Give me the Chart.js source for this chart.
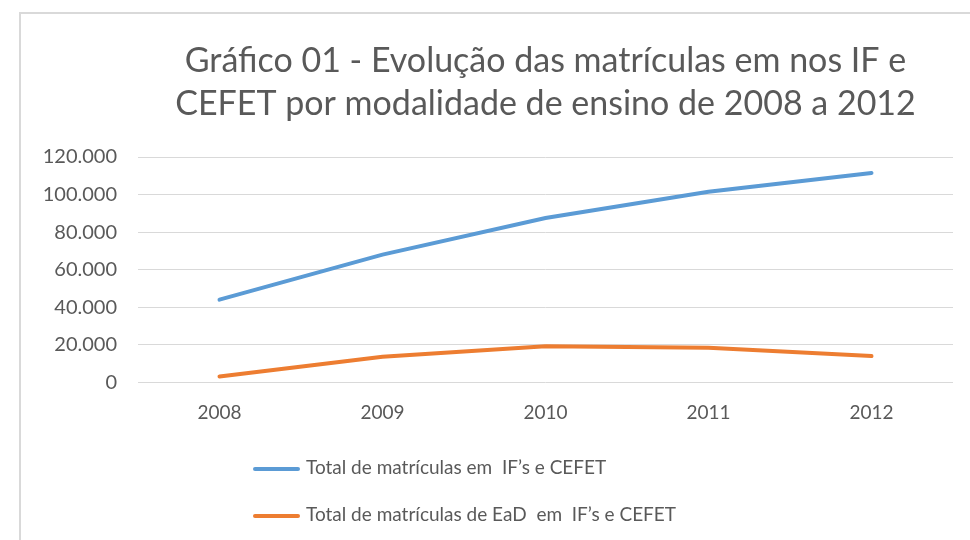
<!DOCTYPE html>
<html>
<head>
<meta charset="utf-8">
<script src="https://cdn.jsdelivr.net/npm/chart.js@4.4.0/dist/chart.umd.min.js"></script>
<style>
body { margin: 0; background: #fff; overflow: hidden; }
#wrap { position: relative; width: 970px; height: 540px; overflow: hidden; }
#frame { position: absolute; left: 19px; top: 12px; width: 1000px; height: 600px; border: 2px solid #d9d9d9; }
#linechart { position: absolute; left: 0; top: 0; }
#legend { position: absolute; left: 253px; top: 0; font-family: Lato, sans-serif; font-size: 19px; color: #595959; }
.item { position: absolute; left: 0; white-space: pre; height: 24px; line-height: 24px; }
.swatch { display: inline-block; width: 47px; height: 4px; border-radius: 2px; vertical-align: middle; margin-right: 6px; }
</style>
</head>
<body>
<div id="wrap">
  <div id="frame"></div>
  <canvas id="linechart" width="970" height="540"></canvas>
  <div id="legend"></div>
</div>
<script>
var years = ['2008', '2009', '2010', '2011', '2012'];
var totalMatriculas = [44000, 68000, 87500, 101500, 111500];
var totalEaD = [3000, 13500, 19200, 18400, 13900];
var seriesNames = ['Total de matrículas em  IF’s e CEFET', 'Total de matrículas de EaD  em  IF’s e CEFET'];
var seriesColors = ['#5b9bd5', '#ed7d31'];
var titleLines = ['Gráfico 01 - Evolução das matrículas em nos IF e', 'CEFET por modalidade de ensino de 2008 a 2012'];
var yTicks = [0, 20000, 40000, 60000, 80000, 100000, 120000];

function formatNumber(v)
{
    var s = String(Math.round(v));
    return s.replace(/\B(?=(\d{3})+(?!\d))/g, '.');
}

function buildLegend(chart)
{
    var rowTops = [455, 502];
    var sets = chart.data.datasets;
    for (var i in sets) {
        var ds = sets[i];
        var el = document.createElement('div');
        el.className = 'item';
        el.style.top = rowTops[i] + 'px';
        el.innerHTML = '<span class="swatch" style="background:' + ds.borderColor + '"></span>';
        el.appendChild(document.createTextNode(ds.label));
        document.getElementById('legend').appendChild(el);
    }
}

function renderLineChart()
{
    var ctx = document.getElementById('linechart').getContext('2d');
    var data = {
        labels: years,
        datasets: [
            { label: seriesNames[0], data: totalMatriculas, borderColor: seriesColors[0], backgroundColor: seriesColors[0] },
            { label: seriesNames[1], data: totalEaD, borderColor: seriesColors[1], backgroundColor: seriesColors[1] }
        ]
    };
    var chart = new Chart(ctx, {
        type: 'line',
        data: data,
        options: {
            responsive: false,
            animation: false,
            layout: { padding: { left: 0, right: 17, top: 0, bottom: 97 } },
            elements: {
                line: { borderWidth: 4, tension: 0, borderCapStyle: 'round' },
                point: { radius: 0, hoverRadius: 0 }
            },
            plugins: {
                legend: { display: false },
                tooltip: { enabled: false },
                title: {
                    display: true,
                    fullSize: false,
                    text: titleLines,
                    color: '#595959',
                    font: { family: 'Lato', size: 34, weight: 'normal', lineHeight: 1.25 },
                    padding: { top: 40, bottom: 32 }
                }
            },
            scales: {
                x: {
                    offset: true,
                    grid: { display: false, drawTicks: false },
                    border: { display: false },
                    ticks: { color: '#595959', font: { family: 'Lato', size: 19 }, padding: 19 }
                },
                y: {
                    min: 0,
                    max: 120000,
                    afterFit: function(scale) { scale.width = 138; },
                    afterBuildTicks: function(scale) {
                        scale.ticks = yTicks.map(function(v) { return { value: v }; });
                    },
                    grid: { color: '#d9d9d9', lineWidth: 1, drawTicks: false },
                    border: { display: false },
                    ticks: {
                        color: '#595959',
                        font: { family: 'Lato', size: 20 },
                        padding: 21,
                        callback: function(v) { return formatNumber(v); }
                    }
                }
            }
        }
    });
    buildLegend(chart);
}

renderLineChart();
</script>
</body>
</html>
